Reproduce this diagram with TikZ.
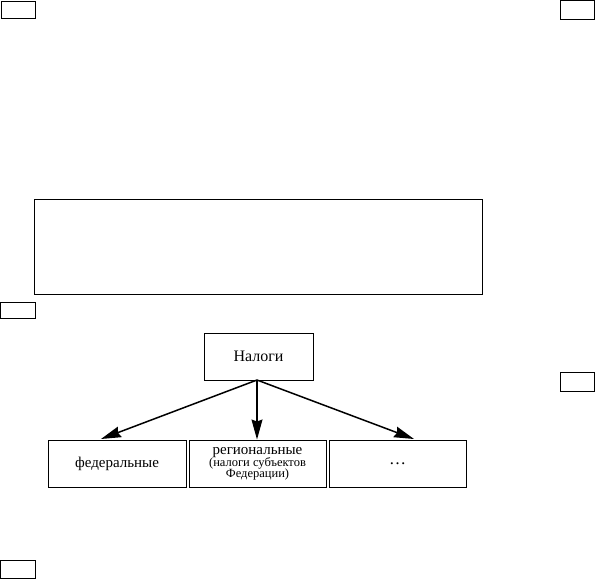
\documentclass[tikz,border=0pt]{standalone}
\usepackage{fontspec}
\setmainfont{Liberation Serif}
\usetikzlibrary{arrows.meta}
\begin{document}
\begin{tikzpicture}[x=1pt,y=-1pt,
  box/.style={draw,line width=1pt,inner sep=0pt,align=center},
  conn/.style={line width=1.5pt,-{Stealth[length=20pt,width=11pt,inset=2pt]}}]
\useasboundingbox (0,0) rectangle (595,579);
% small empty boxes
\node[box,minimum width=34pt,minimum height=17pt] (tl) at (18,9.5) {};
\node[box,minimum width=34pt,minimum height=19pt] (tr) at (577,9.5) {};
\node[box,minimum width=448pt,minimum height=95pt] (big) at (258,246.5) {};
\node[box,minimum width=35pt,minimum height=16pt] (ml) at (17.5,310) {};
\node[box,minimum width=34pt,minimum height=19pt] (mr) at (577,381.5) {};
\node[box,minimum width=35pt,minimum height=18pt] (bl) at (17.5,569) {};
% diagram
\node[box,minimum width=109pt,minimum height=47pt,font=\fontsize{16}{18}\selectfont] (tax) at (258.5,356.5) {Налоги};
\node[box,minimum width=138pt,minimum height=47pt,font=\fontsize{15}{17}\selectfont] (fed) at (117,463.5) {федеральные};
\node[box,minimum width=137pt,minimum height=47pt] (reg) at (257.5,463.5) {{\fontsize{15}{15}\selectfont региональные}\\[-1pt]{\fontsize{12.5}{13}\selectfont (налоги субъектов}\\[-1pt]{\fontsize{12.5}{13}\selectfont Федерации)}};
\node[box,minimum width=137pt,minimum height=47pt,font=\fontsize{17}{18}\selectfont] (oth) at (397.5,463.5) {\dots};
\coordinate (src) at (257,380);
\draw[conn] (src) -- (101,439);
\draw[conn,line width=1.1pt] (src) -- (src |- reg.north);
\draw[conn] (src) -- (414,439);
\end{tikzpicture}
\end{document}
